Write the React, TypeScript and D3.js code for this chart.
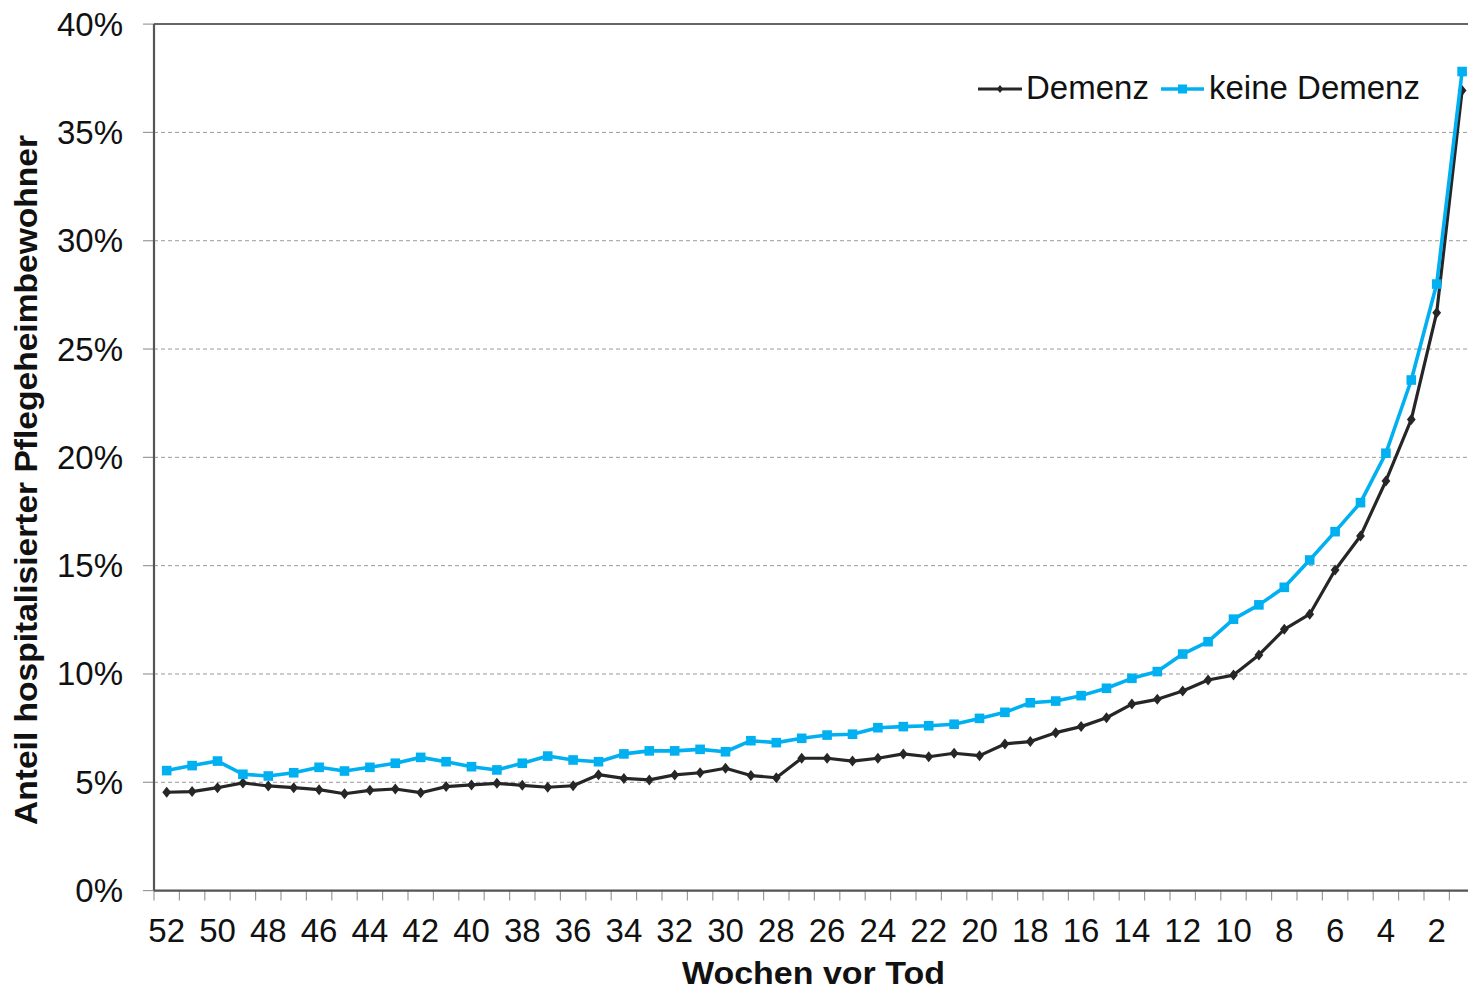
import React from "react";
import * as d3 from "d3";

const weeks: number[] = d3.range(52, 0, -1);
const demenz: number[] = [
  4.54, 4.57, 4.75, 4.97, 4.83, 4.75, 4.66, 4.47, 4.63, 4.69, 4.52, 4.8, 4.88, 4.95, 4.86, 4.77, 4.84,
  5.35, 5.18, 5.11, 5.34, 5.44, 5.65, 5.31, 5.21, 6.11, 6.11, 5.98, 6.11, 6.31, 6.18, 6.34, 6.23,
  6.77, 6.88, 7.29, 7.57, 7.98, 8.61, 8.83, 9.21, 9.72, 9.95, 10.88, 12.06, 12.76, 14.8, 16.37, 18.91, 21.75,
  26.68, 36.93,
];
const keineDemenz: number[] = [
  5.54, 5.77, 5.98, 5.37, 5.29, 5.44, 5.69, 5.52, 5.69, 5.88, 6.15, 5.95, 5.72, 5.57, 5.88, 6.21, 6.03,
  5.95, 6.31, 6.45, 6.45, 6.52, 6.41, 6.92, 6.83, 7.03, 7.18, 7.22, 7.52, 7.57, 7.61, 7.68, 7.95,
  8.23, 8.67, 8.75, 9.0, 9.34, 9.8, 10.11, 10.92, 11.49, 12.53, 13.19, 14.0, 15.26, 16.57, 17.91, 20.19, 23.57,
  28.0, 37.81,
];
const yTicks: number[] = [0, 5, 10, 15, 20, 25, 30, 35, 40];
const xLabelWeeks: number[] = d3.range(52, 0, -2);
const seriesNames = ["Demenz", "keine Demenz"];

const W = 1468;
const H = 991;
const left = 154;
const bandW = 25.4;
const right = left + bandW * weeks.length;
const top = 24.1;
const bottom = 890.6;

const FONT = "'Liberation Sans', Arial, sans-serif";

export default function App() {
  const x = d3.scaleBand<number>().domain(weeks).range([left, right]).padding(0);
  const y = d3.scaleLinear().domain([0, 40]).range([bottom, top]);
  const cx = (w: number) => (x(w) as number) + x.bandwidth() / 2;

  const line = d3
    .line<number>()
    .x((_, i) => cx(weeks[i]))
    .y((v) => y(v));

  const diamond = (px: number, py: number, s = 5.5) =>
    `M${px},${py - s}L${px + s * 0.8},${py}L${px},${py + s}L${px - s * 0.8},${py}Z`;

  const boundaries = d3.range(weeks.length + 1).map((i) => left + i * bandW);

  const blue = "#00B0F0";
  const dark = "#262626";

  return (
    <svg
      width={W}
      height={H}
      style={{ position: "absolute", left: 0, top: 0, background: "#fff" }}
      fontFamily={FONT}
    >
      <rect x={0} y={0} width={W} height={H} fill="#fff" />
      {/* gridlines */}
      {yTicks
        .filter((t) => t > 0 && t < 40)
        .map((t) => (
          <line
            key={"g" + t}
            x1={left}
            x2={W}
            y1={y(t)}
            y2={y(t)}
            stroke="#9a9a9a"
            strokeWidth={1}
            strokeDasharray="4,3"
          />
        ))}
      {/* top border */}
      <line x1={left} x2={W} y1={y(40)} y2={y(40)} stroke="#333" strokeWidth={1.5} />
      {/* y ticks */}
      {yTicks.map((t) => (
        <g key={"yt" + t}>
          <line x1={left - 11} x2={left} y1={y(t)} y2={y(t)} stroke="#9a9a9a" strokeWidth={1.2} />
          <text x={123} y={y(t) + 11.5} textAnchor="end" fontSize={33} fill="#111">
            {t + "%"}
          </text>
        </g>
      ))}
      {/* x ticks */}
      {boundaries.map((b, i) => (
        <line key={"xt" + i} x1={b} x2={b} y1={bottom} y2={bottom + 10} stroke="#9a9a9a" strokeWidth={1.2} />
      ))}
      {xLabelWeeks.map((w) => (
        <text key={"xl" + w} x={cx(w)} y={942} textAnchor="middle" fontSize={33} fill="#111">
          {w}
        </text>
      ))}
      {/* axes */}
      <line x1={left} x2={left} y1={top} y2={bottom} stroke="#555" strokeWidth={2.2} />
      <line x1={left} x2={W} y1={bottom} y2={bottom} stroke="#555" strokeWidth={2.2} />

      {/* series: Demenz */}
      <path d={line(demenz) || ""} fill="none" stroke={dark} strokeWidth={3.2} strokeLinejoin="round" />
      {demenz.map((v, i) => (
        <path key={"d" + i} d={diamond(cx(weeks[i]), y(v))} fill={dark} />
      ))}
      {/* series: keine Demenz */}
      <path d={line(keineDemenz) || ""} fill="none" stroke={blue} strokeWidth={3.6} strokeLinejoin="round" />
      {keineDemenz.map((v, i) => (
        <rect key={"k" + i} x={cx(weeks[i]) - 4.8} y={y(v) - 4.8} width={9.6} height={9.6} fill={blue} />
      ))}

      {/* legend */}
      <line x1={978} x2={1022} y1={89} y2={89} stroke={dark} strokeWidth={3.2} />
      <path d={diamond(1000, 89, 4)} fill={dark} />
      <text x={1026} y={98.5} fontSize={33} fill="#111">
        {seriesNames[0]}
      </text>
      <line x1={1161} x2={1204} y1={89} y2={89} stroke={blue} strokeWidth={3.6} />
      <rect x={1178} y={84.5} width={9} height={9} fill={blue} />
      <text x={1209} y={98.5} fontSize={33} fill="#111">
        {seriesNames[1]}
      </text>

      {/* axis titles */}
      <text
        x={813.5}
        y={984}
        textAnchor="middle"
        fontSize={31}
        fontWeight="bold"
        fill="#111"
        textLength={263}
        lengthAdjust="spacingAndGlyphs"
      >
        Wochen vor Tod
      </text>
      <text
        transform={`translate(37,480) rotate(-90)`}
        textAnchor="middle"
        fontSize={31}
        fontWeight="bold"
        fill="#111"
        textLength={690}
        lengthAdjust="spacingAndGlyphs"
      >
        Anteil hospitalisierter Pflegeheimbewohner
      </text>
    </svg>
  );
}
